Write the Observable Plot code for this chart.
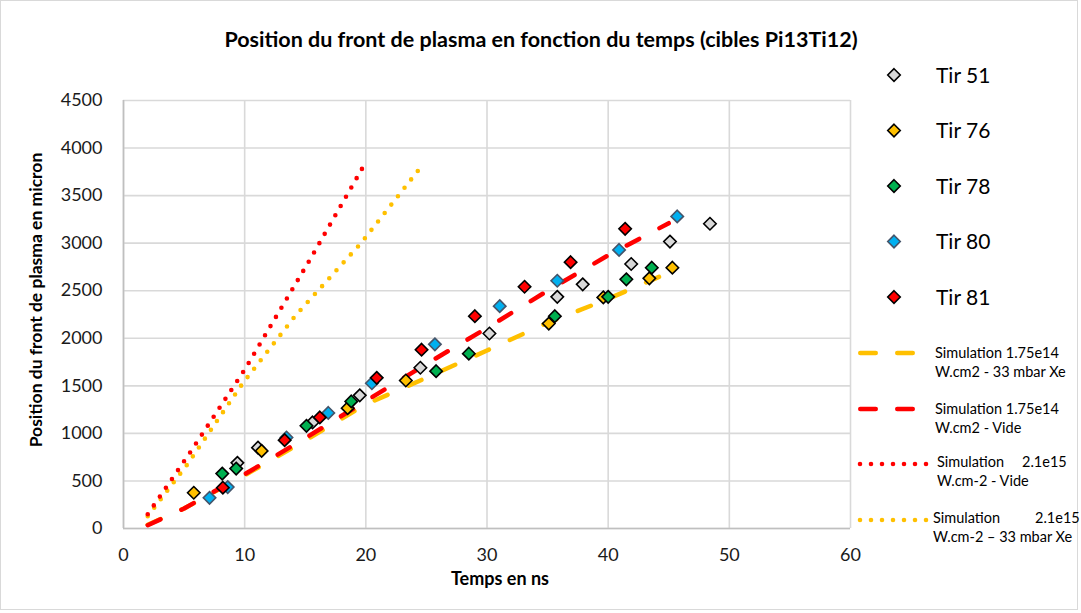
<!DOCTYPE html>
<html>
<head>
<meta charset="utf-8">
<script src="https://cdn.jsdelivr.net/npm/d3@7"></script>
<script src="https://cdn.jsdelivr.net/npm/@observablehq/plot@0.6"></script>
<style>
  html, body { margin: 0; padding: 0; background: #fff; }
  svg { display: block; }
</style>
</head>
<body>
<div id="chart"></div>
<script>
// ---- Data ----
const title = "Position du front de plasma en fonction du temps (cibles Pi13Ti12)";
const xLabel = "Temps en ns";
const yLabel = "Position du front de plasma en micron";
const xTicks = [0, 10, 20, 30, 40, 50, 60];
const yTicks = [0, 500, 1000, 1500, 2000, 2500, 3000, 3500, 4000, 4500];

const tirNames = ["Tir 51", "Tir 76", "Tir 78", "Tir 80", "Tir 81"];
const tirFill = ["#d9d9d9", "#ffc000", "#00b050", "#00b0f0", "#ff0000"];
const tirStroke = ["#000000", "#000000", "#000000", "#44546a", "#000000"];

const tir51X = [9.4, 11.1, 15.6, 19.5, 24.5, 30.2, 35.8, 37.9, 41.9, 45.1, 48.4];
const tir51Y = [690, 850, 1115, 1400, 1690, 2050, 2436, 2567, 2781, 3017, 3204];
const tir76X = [5.8, 11.4, 18.5, 23.3, 35.1, 39.6, 43.4, 45.3];
const tir76Y = [376, 816, 1265, 1556, 2155, 2430, 2630, 2742];
const tir78X = [8.15, 9.3, 15.1, 18.8, 25.8, 28.5, 35.6, 40.0, 41.5, 43.6];
const tir78Y = [577, 630, 1080, 1336, 1654, 1838, 2232, 2436, 2620, 2742];
const tir80X = [7.1, 8.6, 13.45, 16.9, 20.5, 25.7, 31.05, 35.8, 40.9, 45.7];
const tir80Y = [323, 436, 957, 1215, 1527, 1936, 2338, 2605, 2929, 3281];
const tir81X = [8.2, 13.3, 16.2, 20.9, 24.6, 29.0, 33.1, 36.9, 41.4];
const tir81Y = [429, 929, 1168, 1584, 1880, 2232, 2542, 2800, 3151];

const simXeDashX = [2, 5, 10, 15, 20, 25, 30, 35, 40, 45];
const simXeDashY = [40, 210, 560, 925, 1305, 1585, 1872, 2163, 2414, 2690];
const simVideDashX = [2, 5, 10, 15, 20, 25, 30, 35, 40, 45];
const simVideDashY = [35, 210, 570, 950, 1340, 1730, 2108, 2500, 2872, 3210];
const simVideDotX = [2, 5.5, 10, 15.4, 19.9];
const simVideDotY = [150, 800, 1670, 2830, 3830];
const simXeDotX = [2, 5.3, 9.8, 14.2, 19.6, 24.6];
const simXeDotY = [130, 680, 1520, 2240, 3000, 3810];

const simLine1 = ["Simulation 1.75e14", "Simulation 1.75e14", "Simulation", "Simulation"];
const simLine1b = ["", "", "2.1e15", "2.1e15"];
const simLine2 = ["W.cm2 - 33 mbar Xe", "W.cm2 - Vide", "W.cm-2 - Vide", "W.cm-2 \u2013 33 mbar Xe"];
const simColors = ["#ffc000", "#ff0000", "#ff0000", "#ffc000"];

// ---- Build tables ----
const tirX = [tir51X, tir76X, tir78X, tir80X, tir81X];
const tirY = [tir51Y, tir76Y, tir78Y, tir80Y, tir81Y];
const points = tirX.flatMap((xs, i) => xs.map((x, j) => ({x, y: tirY[i][j], s: i})));
const toRows = (xs, ys) => xs.map((x, i) => ({x, y: ys[i]}));

const FONT = "Lato, 'Open Sans', sans-serif";
const dashStyle = {strokeWidth: 4.5, strokeLinecap: "round", strokeDasharray: "14,23"};
const dotStyle = {strokeWidth: 4.6, strokeLinecap: "round", strokeDasharray: "0,10.7"};

const chart = Plot.plot({
  width: 1081,
  height: 613,
  marginLeft: 123,
  marginRight: 231,
  marginTop: 100,
  marginBottom: 85,
  style: {fontFamily: FONT, fontSize: "17px", color: "#262626", background: "#fff"},
  x: {domain: [0, 60], label: null},
  y: {domain: [0, 4500], label: null},
  marks: [
    Plot.gridX(xTicks, {stroke: "#d9d9d9", strokeOpacity: 1, strokeWidth: 1.6}),
    Plot.gridY(yTicks, {stroke: "#d9d9d9", strokeOpacity: 1, strokeWidth: 1.6}),
    Plot.ruleX([0], {stroke: "#bfbfbf", strokeWidth: 1.6}),
    Plot.ruleY([0], {stroke: "#bfbfbf", strokeWidth: 1.6}),
    Plot.axisX(xTicks, {tickSize: 0, tickPadding: 20, fontSize: 18, fill: "#1a1a1a", tickFormat: d => String(d)}),
    Plot.axisY(yTicks, {tickSize: 0, tickPadding: 21, fontSize: 18, fill: "#1a1a1a", tickFormat: d => String(d)}),
    Plot.line(toRows(simXeDotX, simXeDotY), {x: "x", y: "y", stroke: simColors[3], ...dotStyle}),
    Plot.line(toRows(simVideDotX, simVideDotY), {x: "x", y: "y", stroke: simColors[2], ...dotStyle}),
    Plot.line(toRows(simXeDashX, simXeDashY), {x: "x", y: "y", stroke: simColors[0], ...dashStyle}),
    Plot.line(toRows(simVideDashX, simVideDashY), {x: "x", y: "y", stroke: simColors[1], ...dashStyle}),
    Plot.dot(points, {
      x: "x", y: "y", symbol: "diamond2", r: 5.6,
      fill: d => tirFill[d.s], stroke: d => tirStroke[d.s], strokeWidth: 1.6
    })
  ]
});

document.getElementById("chart").appendChild(chart);
const svg = d3.select(chart);

// outer chart border
svg.insert("rect", ":first-child")
  .attr("x", 0.5).attr("y", 0.5).attr("width", 1077).attr("height", 609)
  .attr("fill", "#fff").attr("stroke", "#d9d9d9").attr("stroke-width", 1);

const overlay = svg.append("g").attr("text-anchor", "start").attr("font-family", FONT).attr("fill", "#000");

// title
overlay.append("text").text(title)
  .attr("x", 541).attr("y", 47).attr("text-anchor", "middle")
  .attr("font-weight", "bold").attr("font-size", 21.5);

// axis labels
overlay.append("text").text(xLabel)
  .attr("x", 500).attr("y", 585).attr("text-anchor", "middle")
  .attr("font-weight", "bold").attr("font-size", 18);
overlay.append("text").text(yLabel)
  .attr("transform", "translate(42,300) rotate(-90)").attr("text-anchor", "middle")
  .attr("font-weight", "bold").attr("font-size", 17.5);

// legend: Tir series
const diamond = d3.symbol(d3.symbolDiamond2, 99.6);
tirNames.forEach((name, i) => {
  const cy = 75 + i * 55.5;
  overlay.append("path").attr("d", diamond())
    .attr("transform", `translate(894,${cy})`)
    .attr("fill", tirFill[i]).attr("stroke", tirStroke[i]).attr("stroke-width", 1.6);
  overlay.append("text").text(name)
    .attr("x", 936).attr("y", cy + 7.5)
    .attr("font-size", 21);
});

// legend: simulations
const simRowY = [353, 409, 464, 520];
const simTextX = [935, 935, 937, 933];
const simTextXb = [0, 0, 1022, 1035];
const isDash = [true, true, false, false];
simLine1.forEach((l1, i) => {
  const y = simRowY[i];
  const st = isDash[i] ? dashStyle : dotStyle;
  overlay.append("line")
    .attr("x1", isDash[i] ? 860.25 : 860).attr("x2", isDash[i] ? 912.75 : 927)
    .attr("y1", y).attr("y2", y)
    .attr("stroke", simColors[i]).attr("stroke-width", st.strokeWidth)
    .attr("stroke-linecap", "round")
    .attr("stroke-dasharray", isDash[i] ? "15.5,21.5" : "0,11");
  const t = overlay.append("text").attr("font-size", 14.5);
  const y1 = y + (isDash[i] ? 5 : 3);
  t.append("tspan").attr("x", simTextX[i]).attr("y", y1).text(l1);
  if (simLine1b[i]) t.append("tspan").attr("x", simTextXb[i]).attr("y", y1).text(simLine1b[i]);
  t.append("tspan").attr("x", simTextX[i]).attr("y", y1 + 19).text(simLine2[i]);
});
</script>
</body>
</html>
